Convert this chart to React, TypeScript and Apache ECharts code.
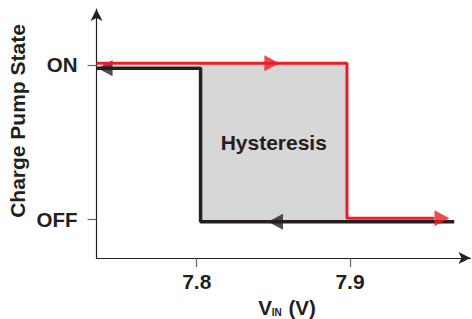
import React, { useEffect, useRef } from "react";
import * as echarts from "echarts";

// Charge pump state: OFF = 0, ON = 1
const stateTicks = [0, 1];
const stateLabels = ["OFF", "ON"];
const vinTicks = [7.8, 7.9];

// Rising path (red): ON -> turns off at ~7.898 V
const risingX = [7.7346, 7.898, 7.898, 7.955];
const risingY = [1.011, 1.011, 0.005, 0.005];

// Falling path (black): OFF -> turns on at ~7.8025 V
const fallingX = [7.968, 7.8025, 7.8025, 7.7346];
const fallingY = [-0.018, -0.018, 0.979, 0.979];

// Direction arrows
const redArrowX = [7.849, 7.96];
const redArrowY = [1.011, 0.005];
const blackArrowX = [7.7402, 7.8514];
const blackArrowY = [0.979, -0.018];

const hystLow = 7.8025;
const hystHigh = 7.898;

const RED = "#ec1c24";
const BLACK = "#231f20";
const FONT = "'Liberation Sans', Arial, sans-serif";

export default function App() {
  const ref = useRef<HTMLDivElement>(null);
  useEffect(() => {
    if (!ref.current) return;
    const chart = echarts.init(ref.current, undefined, { renderer: "svg" });
    const zip = (xs: number[], ys: number[]) => xs.map((x, i) => [x, ys[i]]);
    chart.setOption({
      animation: false,
      backgroundColor: "#ffffff",
      textStyle: { fontFamily: FONT },
      grid: { left: 96.5, right: 1.5, top: 9, bottom: 61, containLabel: false, outerBoundsMode: "none" },
      xAxis: {
        type: "value",
        min: 7.7346,
        max: 7.9786,
        splitLine: { show: false },
        axisLine: {
          show: true,
          onZero: false,
          symbol: ["none", "arrow"],
          symbolSize: [9, 12],
          lineStyle: { color: BLACK, width: 1.2 },
        },
        axisTick: { show: true, customValues: vinTicks, length: 9, lineStyle: { color: "#666", width: 1.2 } },
        axisLabel: {
          customValues: vinTicks,
          formatter: (v: number) => v.toFixed(1),
          color: BLACK,
          fontWeight: "bold",
          fontSize: 21,
          fontFamily: FONT,
          margin: 13,
        },
      },
      yAxis: {
        type: "value",
        min: -0.2532,
        max: 1.3636,
        splitLine: { show: false },
        axisLine: {
          show: true,
          onZero: false,
          symbol: ["none", "arrow"],
          symbolSize: [9, 12],
          lineStyle: { color: BLACK, width: 1.2 },
        },
        axisTick: { show: true, customValues: stateTicks, length: 9, lineStyle: { color: "#666", width: 1.2 } },
        axisLabel: {
          customValues: stateTicks,
          formatter: (v: number) => stateLabels[stateTicks.indexOf(Math.round(v))] ?? "",
          color: BLACK,
          fontWeight: "bold",
          fontSize: 20.5,
          fontFamily: FONT,
          margin: 19,
        },
      },
      graphic: [
        {
          type: "text",
          x: 17.5,
          y: 121,
          rotation: Math.PI / 2,
          style: {
            text: "Charge Pump State",
            fill: BLACK,
            font: `bold 21px ${FONT}`,
            align: "center",
            verticalAlign: "middle",
          },
        },
        {
          type: "text",
          x: 287,
          y: 307,
          style: {
            text: "{a|V}{s|IN}{a| (V)}",
            align: "center",
            verticalAlign: "middle",
            rich: {
              a: { fill: BLACK, fontFamily: FONT, fontWeight: "bold", fontSize: 20.5, verticalAlign: "bottom" },
              s: { fill: BLACK, fontFamily: FONT, fontWeight: "bold", fontSize: 10, padding: [10, 1, 0, 0], verticalAlign: "bottom" },
            },
          },
        },
      ],
      series: [
        {
          type: "line",
          name: "area",
          data: [],
          silent: true,
          markArea: {
            silent: true,
            itemStyle: { color: "#d7d7d7" },
            label: {
              show: true,
              position: "inside",
              color: BLACK,
              fontWeight: "bold",
              fontSize: 21,
              fontFamily: FONT,
            },
            data: [[{ name: "Hysteresis", xAxis: hystLow, yAxis: -0.018 }, { xAxis: hystHigh, yAxis: 1.011 }]],
          },
        },
        {
          type: "line",
          name: "falling",
          data: zip(fallingX, fallingY),
          showSymbol: false,
          lineStyle: { color: BLACK, width: 3.5 },
          z: 3,
        },
        {
          type: "scatter",
          name: "fallingArrows",
          data: zip(blackArrowX, blackArrowY),
          symbol: "triangle",
          symbolSize: [16, 15],
          symbolRotate: 90,
          itemStyle: { color: BLACK },
          z: 4,
        },
        {
          type: "line",
          name: "rising",
          data: zip(risingX, risingY),
          showSymbol: false,
          lineStyle: { color: RED, width: 3 },
          z: 5,
        },
        {
          type: "scatter",
          name: "risingArrows",
          data: zip(redArrowX, redArrowY),
          symbol: "triangle",
          symbolSize: [16, 15],
          symbolRotate: -90,
          itemStyle: { color: RED },
          z: 6,
        },
      ],
    });
    return () => chart.dispose();
  }, []);
  return <div ref={ref} style={{ width: 472, height: 319, position: "absolute", left: 0, top: 0 }} />;
}
